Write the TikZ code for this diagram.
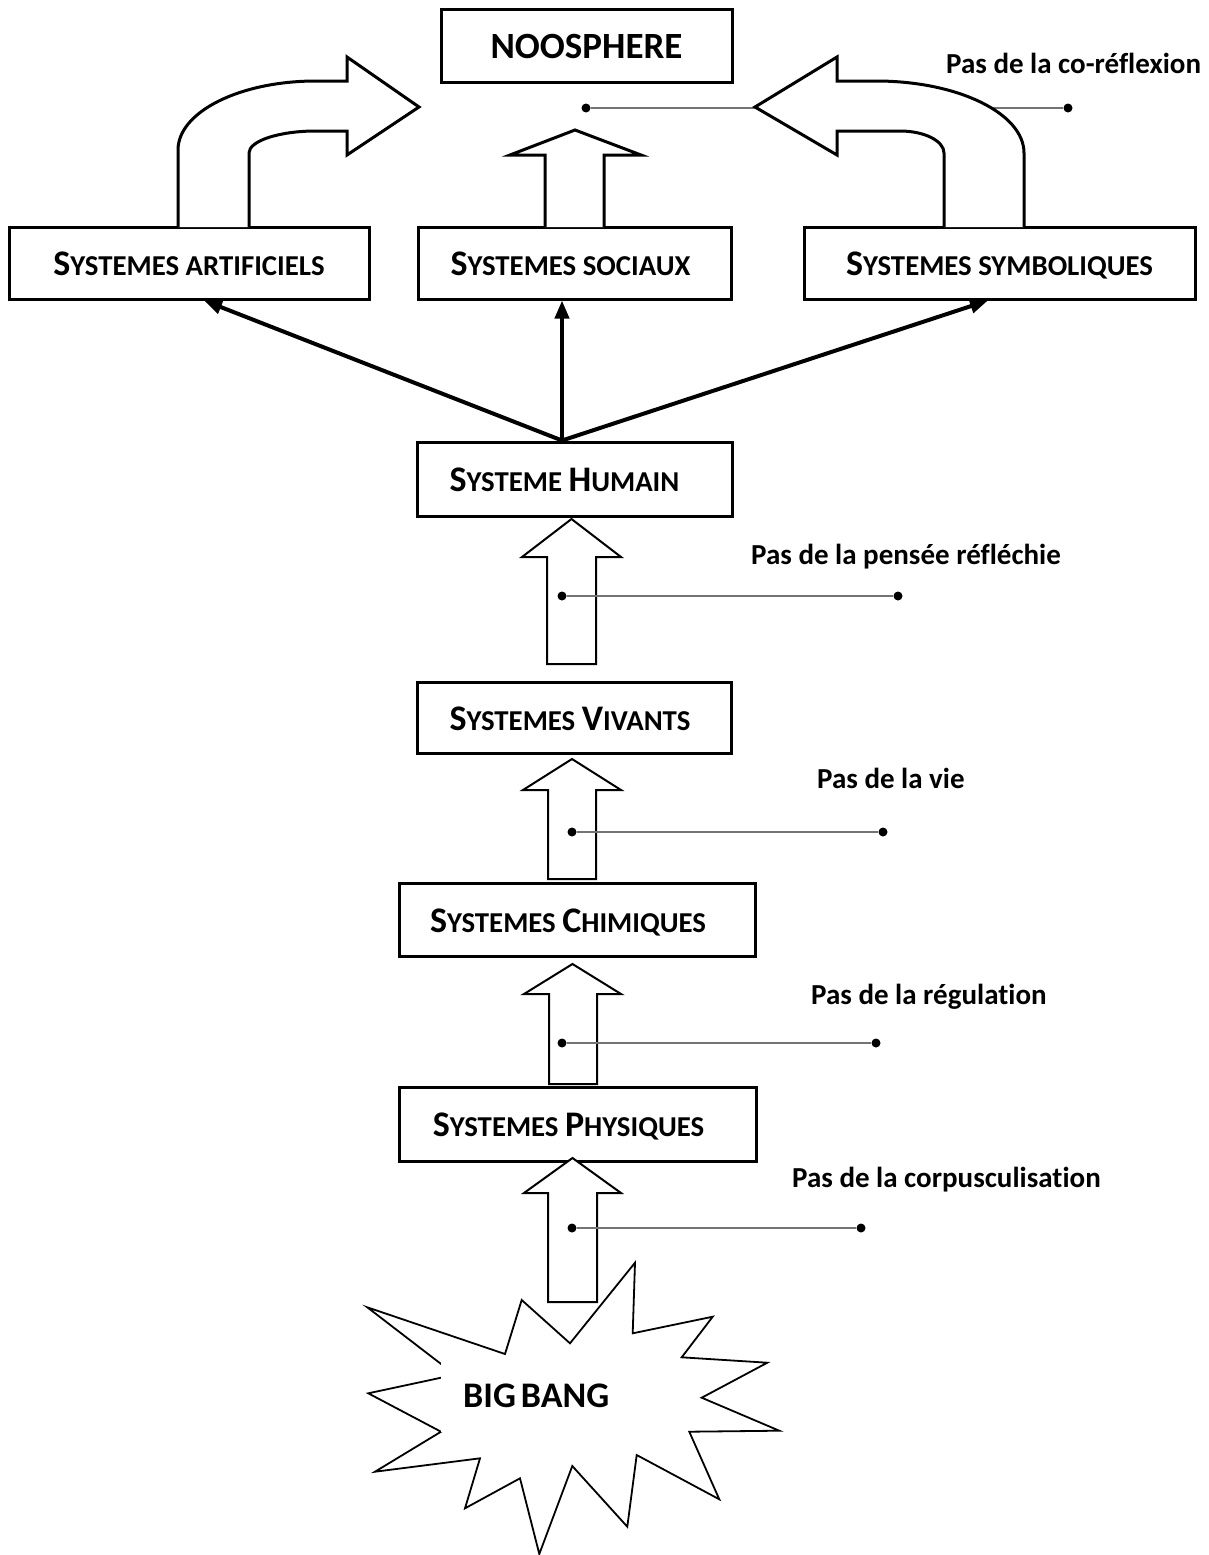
\documentclass[tikz,border=0pt]{standalone}
\usepackage{fontspec}
\setmainfont{Carlito}[Ligatures=NoCommon]
\usetikzlibrary{arrows.meta,calc}
\newcommand\BigLet[1]{{\fontsize{36}{40}\selectfont #1}}
\tikzset{
 sysbox/.style={draw, line width=3pt, fill=white, inner sep=0pt, text height=29pt, text depth=4pt, font=\bfseries\fontsize{28.8}{34}\selectfont},
 blockarrow/.style={draw, line width=2pt, fill=white, line join=miter},
 bentarrow/.style={draw, line width=3pt, fill=white, line join=miter},
 burst/.style={draw, line width=1.8pt, fill=white, line join=miter},
 leader/.style={draw=black!55, line width=1.3pt},
 dotnode/.style={circle, fill=black, inner sep=0pt, minimum size=9pt},
 steplabel/.style={font=\bfseries\fontsize{29}{34}\selectfont, anchor=west, inner sep=0pt},
 thickconn/.style={line width=4pt, -{Triangle[length=18pt,width=14pt]}},
 bangtext/.style={fill=white, anchor=west, minimum height=72pt, text width=200pt, inner xsep=22pt, inner ysep=0pt, align=left, font=\bfseries\fontsize{36}{40}\selectfont},
}
\begin{document}
\begin{tikzpicture}[x=1pt,y=-1pt]
\useasboundingbox[fill=white] (0,0) rectangle (1209,1555);

% boxes
\node[sysbox, minimum width=291pt, minimum height=72pt, font=\bfseries\fontsize{37}{42}\selectfont] (noo) at (586.5,46) {NOOSPHERE};
\node[sysbox, minimum width=360pt, minimum height=72pt] (art) at (189,263) {\BigLet{S}YSTEMES ARTIFICIELS};
\node[sysbox, minimum width=313pt, minimum height=72pt] (soc) at (574.5,263) {\BigLet{S}YSTEMES SOCIAUX\kern8pt};
\node[sysbox, minimum width=391pt, minimum height=72pt] (sym) at (999.5,263) {\BigLet{S}YSTEMES SYMBOLIQUES};
\node[sysbox, minimum width=315pt, minimum height=74pt] (hum) at (574.5,479) {\BigLet{S}YSTEME \BigLet{H}UMAIN\kern20pt};
\node[sysbox, minimum width=314pt, minimum height=71pt] (viv) at (574,717.5) {\BigLet{S}YSTEMES \BigLet{V}IVANTS\kern8pt};
\node[sysbox, minimum width=356pt, minimum height=73pt] (chi) at (577,919.5) {\BigLet{S}YSTEMES \BigLet{C}HIMIQUES\kern18pt};
\node[sysbox, minimum width=357pt, minimum height=74pt] (phy) at (577.5,1124) {\BigLet{S}YSTEMES \BigLet{P}HYSIQUES\kern18pt};

% connectors from the human system
\draw[thickconn] ([xshift=-12.5pt]hum.north) -- ([xshift=15pt]art.south);
\draw[thickconn] ([xshift=-12.5pt]hum.north) -- ([xshift=-12.5pt]soc.south);
\draw[thickconn] ([xshift=-12.5pt]hum.north) -- ([xshift=-11.5pt]sym.south);

% co-reflexion leader (behind the bent arrows)
\node[dotnode] (d5a) at (586,108) {};
\node[dotnode] (d5b) at (1068,108) {};
\draw[leader] (d5a) -- (d5b);
\node[steplabel] (l5) at (946,63) {Pas de la co-réflexion};

% bent arrows and central arrow
\draw[bentarrow] (178,227) -- (178,150) .. controls (178,111.9) and (239.8,81) .. (316,81) -- (347,81) -- (347,57) -- (419,107) -- (347,155) -- (347,131) -- (316,131) .. controls (279,131) and (249,140.9) .. (249,153) -- (249,227);
\draw[bentarrow] (1024,227) -- (1024,153) .. controls (1024,113.3) and (957.7,81) .. (876,81) -- (837,81) -- (837,57) -- (755,107) -- (837,155) -- (837,131) -- (900,131) .. controls (924.3,131) and (944,140.9) .. (944,153) -- (944,227);
\draw[bentarrow] (545,227) -- (545,155) -- (510,155) -- (575,130) -- (641,155) -- (604,155) -- (604,227);

% block arrows
\draw[blockarrow] (547,664) -- (547,557) -- (522,557) -- (571.5,519) -- (621,557) -- (596,557) -- (596,664) -- cycle;
\draw[blockarrow] (548,879) -- (548,790) -- (523,790) -- (572,759) -- (621,790) -- (596,790) -- (596,879) -- cycle;
\draw[blockarrow] (549,1084) -- (549,994) -- (524,994) -- (572.5,964) -- (621,994) -- (597,994) -- (597,1084) -- cycle;
\draw[blockarrow] (548,1302) -- (548,1193) -- (524,1193) -- (572.5,1158) -- (621,1193) -- (597,1193) -- (597,1302) -- cycle;

% leaders and labels
\node[dotnode] (d1a) at (562,596) {};
\node[dotnode] (d1b) at (898,596) {};
\draw[leader] (d1a) -- (d1b);
\node[steplabel] (l1) at (751,557) {Pas de la pensée réfléchie};

\node[dotnode] (d2a) at (572,832) {};
\node[dotnode] (d2b) at (883,832) {};
\draw[leader] (d2a) -- (d2b);
\node[steplabel] (l2) at (817,778) {Pas de la vie};

\node[dotnode] (d3a) at (562,1043) {};
\node[dotnode] (d3b) at (876,1043) {};
\draw[leader] (d3a) -- (d3b);
\node[steplabel] (l3) at (811,997) {Pas de la régulation};

\node[dotnode] (d4a) at (572,1228) {};
\node[dotnode] (d4b) at (861,1228) {};
\draw[leader] (d4a) -- (d4b);
\node[steplabel] (l4) at (792,1180) {Pas de la corpusculisation};

% big bang
\draw[burst] (367.3,1307.3) -- (455,1374.7) -- (368.3,1393.3) -- (441,1431.7) -- (375,1471.7) -- (480,1458.3) -- (465,1508.3) -- (520,1478.3) -- (539.3,1554) -- (572.3,1466) -- (627.3,1526.7) -- (636.7,1455) -- (719.3,1499.3) -- (689.3,1431.7) -- (779.3,1430.7) -- (701.7,1397.7) -- (767.3,1362.7) -- (681.7,1357.3) -- (712.7,1316.7) -- (632.7,1333.3) -- (635,1262.7) -- (570,1343.3) -- (521.7,1300) -- (505,1354) -- cycle;
\node[bangtext] (bang) at (441,1396) {BIG\hspace{5pt}BANG};
\end{tikzpicture}
\end{document}
